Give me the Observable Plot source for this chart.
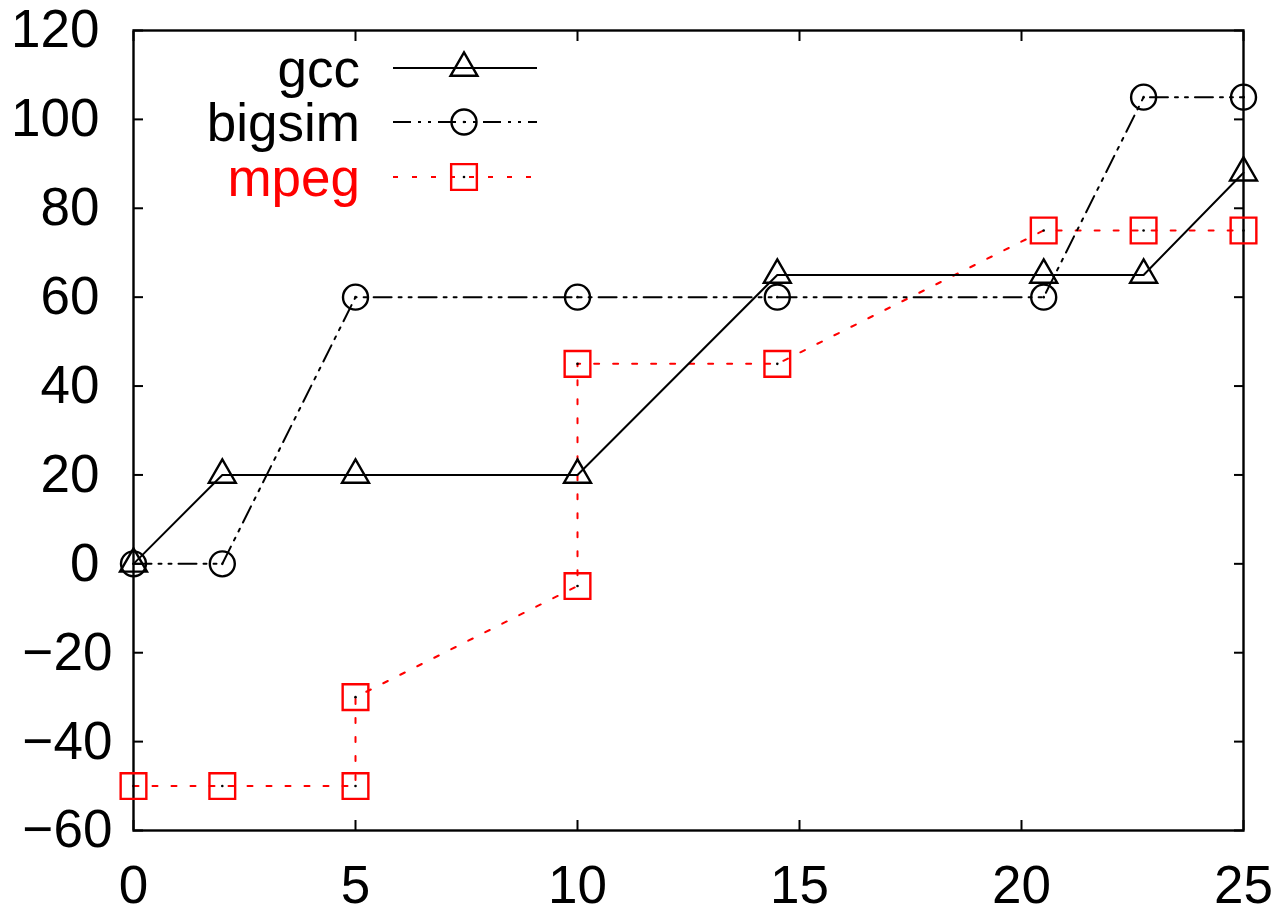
<!DOCTYPE html>
<html>
<head>
<meta charset="utf-8">
<script src="https://cdn.jsdelivr.net/npm/d3@7"></script>
<script src="https://cdn.jsdelivr.net/npm/@observablehq/plot@0.6"></script>
<style>
  html, body { margin: 0; padding: 0; background: #fff; }
  #chart svg { display: block; }
</style>
</head>
<body>
<div id="chart"></div>
<script>
// ---- data ----
const seriesNames = ["gcc", "bigsim", "mpeg"];
const gccX = [0, 2, 5, 10, 14.5, 20.5, 22.75, 25];
const gccY = [0, 20, 20, 20, 65, 65, 65, 88];
const bigsimX = [0, 2, 5, 10, 14.5, 20.5, 22.75, 25];
const bigsimY = [0, 0, 60, 60, 60, 60, 105, 105];
const mpegX = [0, 2, 5, 5, 10, 10, 14.5, 20.5, 22.75, 25];
const mpegY = [-50, -50, -50, -30, -5, 45, 45, 75, 75, 75];
const xTicks = [0, 5, 10, 15, 20, 25];
const yTicks = [-60, -40, -20, 0, 20, 40, 60, 80, 100, 120];

const zip = (xs, ys) => xs.map((x, i) => ({x, y: ys[i]}));
const gcc = zip(gccX, gccY);
const bigsim = zip(bigsimX, bigsimY);
const mpeg = zip(mpegX, mpegY);

const FONT = "'Liberation Sans', Arial, Helvetica, sans-serif";
const FS = 53;
const styles = {
  gcc: {stroke: "black", dash: null, symbol: "triangle", r: 10},
  bigsim: {stroke: "black", dash: "18,7,3,7,3,7", symbol: "circle", r: 12.5},
  mpeg: {stroke: "red", dash: "5,14", symbol: "square", r: 14.5}
};

const plot = Plot.plot({
  width: 1279,
  height: 910,
  marginLeft: 133,
  marginRight: 36,
  marginTop: 30,
  marginBottom: 80,
  style: {fontFamily: FONT, fontSize: FS + "px", color: "black", background: "white"},
  x: {domain: [0, 25], label: null},
  y: {domain: [-60, 120], label: null},
  marks: [
    Plot.axisX(xTicks, {anchor: "bottom", label: null, tickSize: -10, tickPadding: 45, strokeWidth: 2, fontSize: FS}),
    Plot.axisX(xTicks, {anchor: "top", label: null, tickSize: -10, tickFormat: () => "", strokeWidth: 2}),
    Plot.axisY(yTicks.filter(d => d >= 0), {anchor: "left", label: null, tickSize: -10, tickPadding: 44, strokeWidth: 2, fontSize: FS}),
    Plot.axisY(yTicks.filter(d => d < 0), {anchor: "left", label: null, tickSize: -10, tickPadding: 31, strokeWidth: 2, fontSize: FS}),
    Plot.axisY(yTicks, {anchor: "right", label: null, tickSize: -10, tickFormat: () => "", strokeWidth: 2}),
    Plot.frame({stroke: "black", strokeWidth: 2.4}),
    // mpeg
    Plot.line(mpeg, {x: "x", y: "y", stroke: "red", strokeWidth: 2, strokeDasharray: styles.mpeg.dash}),
    Plot.dot(mpeg, {x: "x", y: "y", symbol: "square", r: styles.mpeg.r, stroke: "red", strokeWidth: 2.4, fill: "none"}),
    Plot.dot(mpeg, {x: "x", y: "y", r: 1.3, fill: "black"}),
    // bigsim
    Plot.line(bigsim, {x: "x", y: "y", stroke: "black", strokeWidth: 2, strokeDasharray: styles.bigsim.dash}),
    Plot.dot(bigsim, {x: "x", y: "y", symbol: "circle", r: styles.bigsim.r, stroke: "black", strokeWidth: 2.4, fill: "none"}),
    Plot.dot(bigsim, {x: "x", y: "y", r: 1.3, fill: "black"}),
    // gcc
    Plot.line(gcc, {x: "x", y: "y", stroke: "black", strokeWidth: 2}),
    Plot.dot(gcc, {x: "x", y: "y", symbol: "triangle", r: styles.gcc.r, stroke: "black", strokeWidth: 2.4, fill: "none"})
  ]
});

document.getElementById("chart").appendChild(plot);

// ---- legend (inside the plot frame, top-left) ----
const svg = d3.select(plot);
const leg = svg.append("g").attr("font-family", FONT).attr("font-size", FS);
const rowY = [68, 122, 177];
const symbolMap = {triangle: d3.symbolTriangle, circle: d3.symbolCircle, square: d3.symbolSquare};
seriesNames.forEach((name, i) => {
  const s = styles[name];
  const y = rowY[i];
  leg.append("text")
    .attr("x", 360).attr("y", y).attr("dy", "0.36em")
    .attr("text-anchor", "end")
    .attr("fill", name === "mpeg" ? "red" : "black")
    .text(name);
  leg.append("line")
    .attr("x1", 393).attr("x2", 537).attr("y1", y).attr("y2", y)
    .attr("stroke", s.stroke).attr("stroke-width", 2)
    .attr("stroke-dasharray", s.dash);
  leg.append("path")
    .attr("transform", `translate(464,${y})`)
    .attr("d", d3.symbol(symbolMap[s.symbol], Math.PI * s.r * s.r)())
    .attr("fill", "none").attr("stroke", s.stroke).attr("stroke-width", 2.4);
  if (name !== "gcc") {
    leg.append("circle").attr("cx", 464).attr("cy", y).attr("r", 1.3).attr("fill", "black");
  }
});
</script>
</body>
</html>
